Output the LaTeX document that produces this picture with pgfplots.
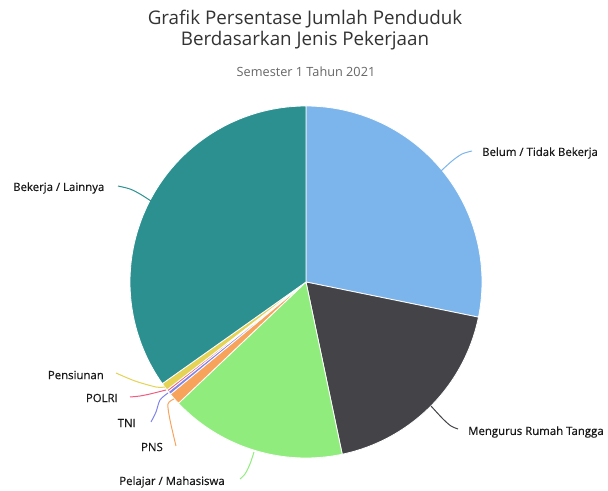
\documentclass[border=0pt]{standalone}
\usepackage{pgfplots}
\pgfplotsset{compat=1.18}
\usepackage{fontspec}
\setmainfont{Open Sans}
\newfontfamily\lblfont[FakeBold=0.6]{Open Sans}
\definecolor{cBelum}{HTML}{7CB5EC}
\definecolor{cMeng}{HTML}{434348}
\definecolor{cPel}{HTML}{90ED7D}
\definecolor{cPNS}{HTML}{F7A35C}
\definecolor{cTNI}{HTML}{8085E9}
\definecolor{cPOLRI}{HTML}{F15C80}
\definecolor{cPens}{HTML}{E4D354}
\definecolor{cBek}{HTML}{2B908F}
\definecolor{ctitle}{HTML}{333333}
\definecolor{csub}{HTML}{666666}
\begin{document}
\begin{tikzpicture}
\begin{axis}[width=608bp, height=491bp, scale only axis,
  xmin=0, xmax=608, ymin=-491, ymax=0, hide axis, clip=false]
\path (axis cs:0,0) rectangle (axis cs:608,-491);
% percentages (clockwise from 12 o'clock)
\xdef\cum{0}
\foreach \v/\c in {28.2/cBelum, 18.5/cMeng, 16.2/cPel, 1.1/cPNS, 0.3/cTNI, 0.2/cPOLRI, 0.7/cPens, 34.8/cBek} {
  \pgfmathsetmacro\sa{90-3.6*\cum}
  \pgfmathsetmacro\sb{90-3.6*(\cum+\v)}
  \edef\doplot{\noexpand\addplot[fill=\c, draw=white, line width=0.8bp, domain=\sb:\sa, samples=90, variable=\noexpand\t] ({306+176*cos(\noexpand\t)},{-282+176*sin(\noexpand\t)}) -- (axis cs:306,-282) -- cycle;}
  \doplot
  \pgfmathsetmacro\nc{\cum+\v}
  \xdef\cum{\nc}
}
% connectors
\addplot[smooth, draw=cBelum, line width=1bp] coordinates {(441,-171) (452,-161) (462,-154) (472,-151)};
\addplot[smooth, draw=cMeng, line width=1bp] coordinates {(431,-406) (443,-419) (451,-426) (458,-429)};
\addplot[smooth, draw=cPel, line width=1bp] coordinates {(254,-452) (250,-464) (245,-474) (240,-479)};
\addplot[smooth, draw=cPNS, line width=1bp] coordinates {(174,-399) (168,-404) (170,-420) (176,-446)};
\addplot[smooth, draw=cTNI, line width=1bp] coordinates {(168,-393) (160,-400) (156,-412) (151,-422)};
\addplot[smooth, draw=cPOLRI, line width=1bp] coordinates {(166,-390) (150,-394) (140,-396) (130,-397)};
\addplot[smooth, draw=cPens, line width=1bp] coordinates {(165,-387) (156,-387) (135,-381) (116,-373)};
\addplot[smooth, draw=cBek, line width=1bp] coordinates {(151,-201) (140,-194) (130,-189) (118,-186)};
% titles
\node[text=ctitle, font=\fontsize{18.8bp}{21.5bp}\selectfont, align=center, anchor=center] at (axis cs:305,-30) {Grafik Persentase Jumlah Penduduk\\Berdasarkan Jenis Pekerjaan};
\node[text=csub, font=\fontsize{12.7bp}{15bp}\selectfont, anchor=center] at (axis cs:306,-72) {Semester 1 Tahun 2021};
% data labels
\tikzset{dl/.style={text=black!90, font=\lblfont\fontsize{11.4bp}{13bp}\selectfont, inner sep=0pt}}
\node[dl, anchor=west] at (axis cs:482,-153) {Belum / Tidak Bekerja};
\node[dl, anchor=west] at (axis cs:468,-432) {Mengurus Rumah Tangga};
\node[dl, anchor=center] at (axis cs:172,-482) {Pelajar / Mahasiswa};
\node[dl, anchor=east] at (axis cs:163,-447) {PNS};
\node[dl, anchor=east] at (axis cs:136,-423) {TNI};
\node[dl, anchor=east] at (axis cs:118,-398) {POLRI};
\node[dl, anchor=east] at (axis cs:104,-375) {Pensiunan};
\node[dl, anchor=west] at (axis cs:13,-188) {Bekerja / Lainnya};
\end{axis}
\end{tikzpicture}
\end{document}
